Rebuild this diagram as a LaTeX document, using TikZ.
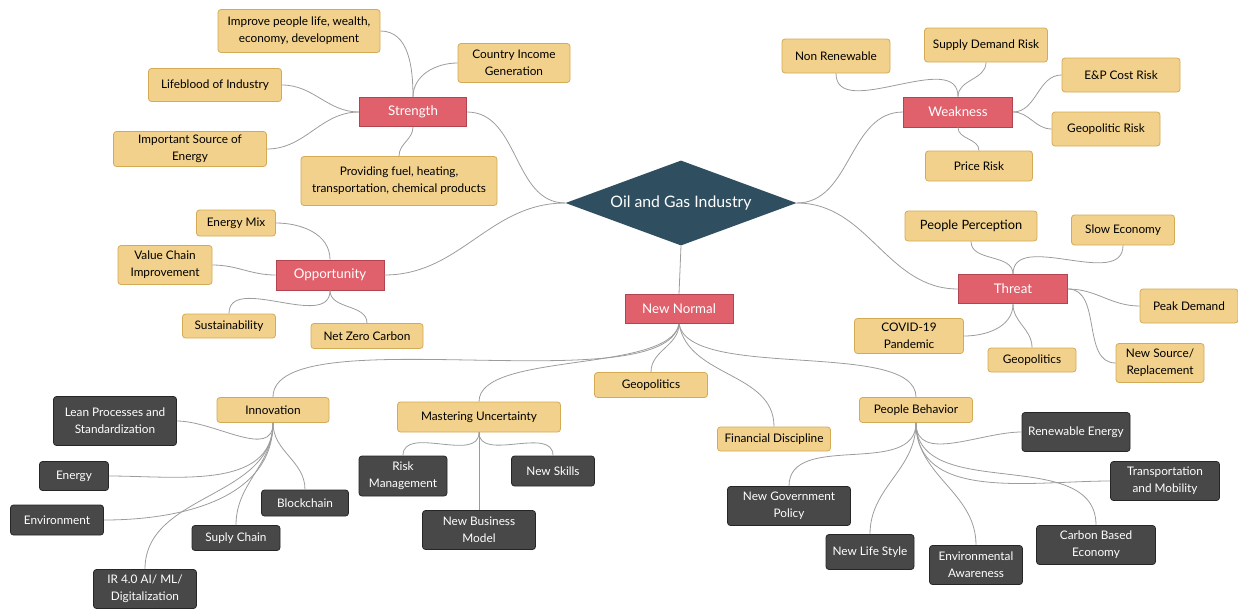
\documentclass[tikz,border=0pt]{standalone}
\usepackage{fontspec}
\setmainfont{Lato}
\usetikzlibrary{shapes.geometric}
\definecolor{redf}{HTML}{E0616C}
\definecolor{redd}{HTML}{B24450}
\definecolor{yelf}{HTML}{F1D18C}
\definecolor{yeld}{HTML}{D5AA55}
\definecolor{darkf}{HTML}{484848}
\definecolor{darkd}{HTML}{262626}
\definecolor{rootf}{HTML}{2F4F60}
\definecolor{linec}{HTML}{9C9C9C}
\tikzset{
  base/.style={inner sep=0pt, align=center, font=\fontsize{11.8}{16.8}\selectfont},
  redbox/.style={base, rectangle, fill=redf, draw=redd, line width=0.8pt, text=white, font=\fontsize{13.3}{15}\selectfont},
  yel/.style={base, rectangle, rounded corners=3pt, fill=yelf, draw=yeld, line width=0.8pt, text=black},
  dark/.style={base, rectangle, rounded corners=3pt, fill=darkf, draw=darkd, line width=0.8pt, text=white},
  conn/.style={draw=linec, line width=0.8pt},
}
\begin{document}
\begin{tikzpicture}[x=1pt,y=-1pt]
\useasboundingbox (0,0) rectangle (1238,608);
% root
\node[diamond, fill=rootf, inner sep=0pt, minimum width=231, minimum height=85, aspect=2.7, text=white, font=\fontsize{15.8}{18}\selectfont] (root) at (681,203) {Oil and Gas Industry};
% Strength
\node[redbox, minimum width=107, minimum height=29] (str) at (413,112) {Strength};
\node[yel, minimum width=162, minimum height=43] (imp) at (299,31) {Improve people life, wealth,\\economy, development};
\node[yel, minimum width=112, minimum height=39] (cig) at (514,63) {Country Income\\Generation};
\node[yel, minimum width=133, minimum height=33] (lbi) at (215,85) {Lifeblood of Industry};
\node[yel, minimum width=153, minimum height=35] (ise) at (190,149) {Important Source of\\Energy};
\node[yel, minimum width=196, minimum height=49] (pfh) at (399,181) {Providing fuel, heating,\\transportation, chemical products};
% Weakness
\node[redbox, minimum width=109, minimum height=30] (wea) at (958,112) {Weakness};
\node[yel, minimum width=108, minimum height=34] (nren) at (836,56) {Non Renewable};
\node[yel, minimum width=123, minimum height=34] (sdr) at (986,45) {Supply Demand Risk};
\node[yel, minimum width=118, minimum height=34] (epc) at (1121,75) {E\&P Cost Risk};
\node[yel, minimum width=108, minimum height=34] (gpr) at (1106,129) {Geopolitic Risk};
\node[yel, minimum width=107, minimum height=30] (prr) at (979,166) {Price Risk};
% Opportunity
\node[redbox, minimum width=108, minimum height=30] (opp) at (330,275) {Opportunity};
\node[yel, minimum width=79, minimum height=26] (emx) at (236,223) {Energy Mix};
\node[yel, minimum width=94, minimum height=39] (vci) at (165,265) {Value Chain\\Improvement};
\node[yel, minimum width=93, minimum height=24] (sus) at (229,326) {Sustainability};
\node[yel, minimum width=112, minimum height=25] (nzc) at (367,336) {Net Zero Carbon};
% Threat
\node[redbox, minimum width=109, minimum height=29] (thr) at (1013,289) {Threat};
\node[yel, minimum width=132, minimum height=30, font=\fontsize{12.8}{16}\selectfont] (ppc) at (971,226) {People Perception};
\node[yel, minimum width=103, minimum height=30] (slw) at (1123,230) {Slow Economy};
\node[yel, minimum width=98, minimum height=34] (pkd) at (1189,306) {Peak Demand};
\node[yel, minimum width=109, minimum height=35] (cov) at (909,336) {COVID-19\\Pandemic};
\node[yel, minimum width=88, minimum height=24] (gpt) at (1032,360) {Geopolitics};
\node[yel, minimum width=88, minimum height=39] (nsr) at (1160,363) {New Source/\\Replacement};
% New Normal
\node[redbox, minimum width=108, minimum height=29] (nn) at (679,309) {New Normal};
\node[yel, minimum width=112, minimum height=25] (inn) at (273,410) {Innovation};
\node[yel, minimum width=163, minimum height=30] (mu) at (479,417) {Mastering Uncertainty};
\node[yel, minimum width=113, minimum height=25] (gpn) at (651,385) {Geopolitics};
\node[yel, minimum width=113, minimum height=24] (fd) at (774,439) {Financial Discipline};
\node[yel, minimum width=113, minimum height=25] (pb) at (916,410) {People Behavior};
% Innovation children
\node[dark, minimum width=123, minimum height=49] (lean) at (115,421) {Lean Processes and\\Standardization};
\node[dark, minimum width=69, minimum height=29] (ene) at (74,476) {Energy};
\node[dark, minimum width=93, minimum height=30] (env) at (57,520) {Environment};
\node[dark, minimum width=87, minimum height=26] (blk) at (305,503) {Blockchain};
\node[dark, minimum width=88, minimum height=25] (sup) at (236,538) {Suply Chain};
\node[dark, minimum width=103, minimum height=39] (ir) at (145,589) {IR 4.0 AI/ ML/\\Digitalization};
% Mastering children
\node[dark, minimum width=88, minimum height=40] (risk) at (403,476) {Risk\\Management};
\node[dark, minimum width=83, minimum height=30] (nsk) at (553,471) {New Skills};
\node[dark, minimum width=113, minimum height=39] (nbm) at (479,530) {New Business\\Model};
% People Behavior children
\node[dark, minimum width=108, minimum height=39] (ren) at (1076,432) {Renewable Energy};
\node[dark, minimum width=109, minimum height=39] (tam) at (1165,481) {Transportation\\and Mobility};
\node[dark, minimum width=123, minimum height=39] (ngp) at (789,506) {New Government\\Policy};
\node[dark, minimum width=88, minimum height=35] (nls) at (870,552) {New Life Style};
\node[dark, minimum width=93, minimum height=39] (ena) at (976,565) {Environmental\\Awareness};
\node[dark, minimum width=119, minimum height=39] (cbe) at (1096,545) {Carbon Based\\Economy};
% connectors: root
\draw[conn] (str.east) to[out=0,in=180] (root.west);
\draw[conn] (root.east) to[out=0,in=180] (wea.west);
\draw[conn] (root.west) to[out=180,in=0] (opp.east);
\draw[conn] (root.east) to[out=0,in=180] (thr.west);
\draw[conn] (root.south) -- (nn.north);
% Strength
\draw[conn] (str.north) to[out=90,in=0] (imp.east);
\draw[conn] (str.north) to[out=90,in=180] (cig.west);
\draw[conn] (str.west) to[out=180,in=0] (lbi.east);
\draw[conn] (str.west) to[out=180,in=0] (ise.east);
\draw[conn] (str.south) to[out=-90,in=90] (pfh.north);
% Weakness
\draw[conn] (wea.north) to[out=90,in=-90] (nren.south);
\draw[conn] (wea.north) to[out=90,in=-90] (sdr.south);
\draw[conn] (wea.east) to[out=0,in=180] (epc.west);
\draw[conn] (wea.east) to[out=0,in=180] (gpr.west);
\draw[conn] (wea.south) to[out=-90,in=90] (prr.north);
% Opportunity
\draw[conn] (opp.north) to[out=90,in=0] (emx.east);
\draw[conn] (opp.west) to[out=180,in=0] (vci.east);
\draw[conn] (opp.south) to[out=-90,in=90] (sus.north);
\draw[conn] (opp.south) to[out=-90,in=90] (nzc.north);
% Threat
\draw[conn] (thr.north) to[out=90,in=-90] (ppc.south);
\draw[conn] (thr.north) to[out=90,in=-90] (slw.south);
\draw[conn] (thr.east) to[out=0,in=180] (pkd.west);
\draw[conn] (thr.east) to[out=0,in=180] (nsr.west);
\draw[conn] (thr.south) to[out=-90,in=0] (cov.east);
\draw[conn] (thr.south) to[out=-90,in=90] (gpt.north);
% New Normal
\draw[conn] (nn.south) to[out=-100,in=90,looseness=0.5] (inn.north);
\draw[conn] (nn.south) to[out=-100,in=90,looseness=0.6] (mu.north);
\draw[conn] (nn.south) to[out=-90,in=90] (gpn.north);
\draw[conn] (nn.south) to[out=-80,in=90] (fd.north);
\draw[conn] (nn.south) to[out=-80,in=90,looseness=0.6] (pb.north);
% Innovation
\draw[conn] (inn.south) to[out=-90,in=0] (lean.east);
\draw[conn] (inn.south) to[out=-90,in=0] (ene.east);
\draw[conn] (inn.south) to[out=-90,in=0] (env.east);
\draw[conn] (inn.south) to[out=-90,in=90] (blk.north);
\draw[conn] (inn.south) to[out=-90,in=90] (sup.north);
\draw[conn] (inn.south) to[out=-90,in=90] (ir.north);
% Mastering
\draw[conn] (mu.south) to[out=-90,in=90] (risk.north);
\draw[conn] (mu.south) to[out=-90,in=90] (nsk.north);
\draw[conn] (mu.south) -- (nbm.north);
% People Behavior
\draw[conn] (pb.south) to[out=-90,in=180] (ren.west);
\draw[conn] (pb.south) to[out=-90,in=180] (tam.west);
\draw[conn] (pb.south) to[out=-90,in=90] (ngp.north);
\draw[conn] (pb.south) to[out=-90,in=90] (nls.north);
\draw[conn] (pb.south) to[out=-90,in=90] (ena.north);
\draw[conn] (pb.south) to[out=-90,in=90] (cbe.north);
\end{tikzpicture}
\end{document}
